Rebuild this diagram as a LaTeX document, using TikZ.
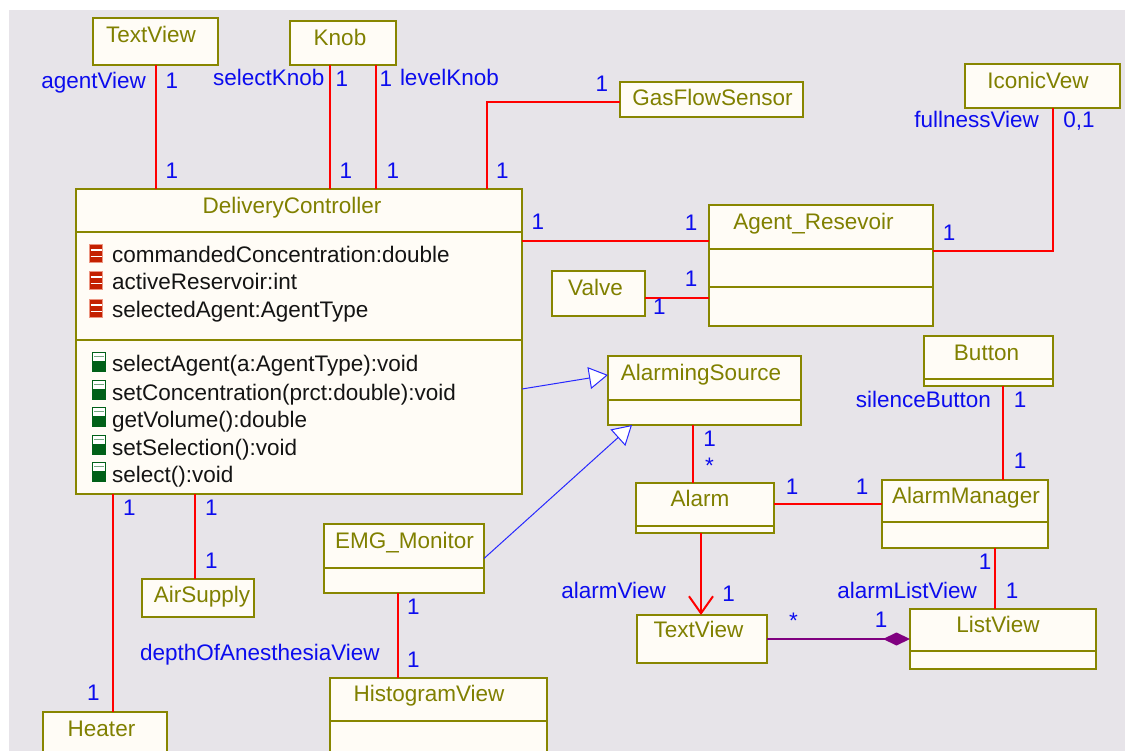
\documentclass[tikz,border=0pt]{standalone}
\usepackage{fontspec}
\setmainfont{Liberation Sans}
\usetikzlibrary{arrows.meta}

\definecolor{canvasgrey}{RGB}{231,228,233}
\definecolor{boxfill}{RGB}{255,252,246}
\definecolor{boxedge}{RGB}{136,134,0}
\definecolor{nametext}{RGB}{128,128,0}
\definecolor{multblue}{RGB}{12,12,238}
\definecolor{assocred}{RGB}{255,0,0}
\definecolor{genblue}{RGB}{40,40,255}
\definecolor{comppurple}{RGB}{128,0,128}
\definecolor{attrred}{RGB}{196,32,0}
\definecolor{attredge}{RGB}{236,150,130}
\definecolor{opgreen}{RGB}{0,96,24}

\tikzset{
  cls/.style={draw=boxedge, fill=boxfill, line width=2pt, inner sep=0pt, outer sep=0pt},
  divider/.style={draw=boxedge, line width=2pt},
  cname/.style={text=nametext, inner sep=0pt, outer sep=0pt},
  member/.style={text=black!92, inner sep=0pt, outer sep=0pt, anchor=base west},
  mult/.style={text=multblue, inner sep=0pt, outer sep=0pt},
  assoc/.style={draw=assocred, line width=2pt},
  navarrow/.style={-{Straight Barb[length=17pt,width=24pt]}},
  gen/.style={draw=genblue, line width=1pt, -{Triangle[length=19pt,width=22pt,fill=white]}},
  comp/.style={draw=comppurple, line width=2pt, -{Diamond[length=27pt,width=13pt,fill=comppurple]}},
  attr icon/.pic={
    \fill[attrred] (0,0) rectangle (14,19);
    \draw[attredge, line width=0.9pt] (0.45,0.45) rectangle (13.55,18.55);
    \draw[white, line width=1.5pt] (1.5,6) -- (12.5,6) (1.5,12.5) -- (12.5,12.5);
  },
  op icon/.pic={
    \fill[white] (0,0) rectangle (14,20);
    \fill[opgreen] (0,9) rectangle (14,20);
    \draw[opgreen, line width=1pt] (0.5,0.5) rectangle (13.5,19.5);
    \draw[opgreen!55, line width=0.9pt] (2,4.5) -- (12,4.5);
  },
}

\begin{document}
\begin{tikzpicture}[x=1pt, y=-1pt, font=\fontsize{22.5}{27}\selectfont]
\useasboundingbox (0,0) rectangle (1125,751);
\clip (0,0) rectangle (1125,751);
\fill[white] (0,0) rectangle (1125,751);
\fill[canvasgrey] (9,10) rectangle (1125,751);

% ---------- classes ----------
\node[cls, minimum width=125pt, minimum height=47pt] (tvtop) at (155.5,41.5) {};
\node[cname, anchor=base] (tvtop-n) at (151,43) {TextView};

\node[cls, minimum width=106pt, minimum height=44pt] (knob) at (343,43) {};
\node[cname, anchor=base] (knob-n) at (340,46) {Knob};

\node[cls, minimum width=183pt, minimum height=35pt] (gfs) at (711.5,99.5) {};
\node[cname, anchor=base] (gfs-n) at (712.5,106) {GasFlowSensor};

\node[cls, minimum width=155pt, minimum height=44pt] (iconic) at (1042.5,86) {};
\node[cname, anchor=base] (iconic-n) at (1038,89) {IconicVew};

\node[cls, minimum width=446pt, minimum height=305pt] (dc) at (299,341.5) {};
\draw[divider] (dc.west |- 0,232) -- (dc.east |- 0,232);
\draw[divider] (dc.west |- 0,340) -- (dc.east |- 0,340);
\node[cname, anchor=base] (dc-n) at (292,214) {DeliveryController};

\pic at (89,244) {attr icon};
\pic at (89,271) {attr icon};
\pic at (89,299) {attr icon};
\node[member] (dc-a1) at (112,263) {commandedConcentration:double};
\node[member] (dc-a2) at (112,290) {activeReservoir:int};
\node[member] (dc-a3) at (112,318) {selectedAgent:AgentType};

\pic at (92,352) {op icon};
\pic at (92,380) {op icon};
\pic at (92,407) {op icon};
\pic at (92,435) {op icon};
\pic at (92,462) {op icon};
\node[member] (dc-o1) at (112,372) {selectAgent(a:AgentType):void};
\node[member] (dc-o2) at (112,400) {setConcentration(prct:double):void};
\node[member] (dc-o3) at (112,427) {getVolume():double};
\node[member] (dc-o4) at (112,455) {setSelection():void};
\node[member] (dc-o5) at (112,482) {select():void};

\node[cls, minimum width=224pt, minimum height=121pt] (ar) at (821,265.5) {};
\draw[divider] (ar.west |- 0,249) -- (ar.east |- 0,249);
\draw[divider] (ar.west |- 0,287) -- (ar.east |- 0,287);
\node[cname, anchor=base] (ar-n) at (813.5,230) {Agent\_Resevoir};

\node[cls, minimum width=93pt, minimum height=45pt] (valve) at (598.5,293.5) {};
\node[cname, anchor=base] (valve-n) at (595.5,296) {Valve};

\node[cls, minimum width=193pt, minimum height=69pt] (as) at (704.5,390.5) {};
\draw[divider] (as.west |- 0,400) -- (as.east |- 0,400);
\node[cname, anchor=base] (as-n) at (701,381) {AlarmingSource};

\node[cls, minimum width=129pt, minimum height=50pt] (button) at (988.5,361) {};
\draw[divider] (button.west |- 0,379) -- (button.east |- 0,379);
\node[cname, anchor=base] (button-n) at (986.5,360) {Button};

\node[cls, minimum width=138pt, minimum height=50pt] (alarm) at (705,508) {};
\draw[divider] (alarm.west |- 0,526) -- (alarm.east |- 0,526);
\node[cname, anchor=base] (alarm-n) at (700,506.5) {Alarm};

\node[cls, minimum width=166pt, minimum height=68pt] (am) at (965,514) {};
\draw[divider] (am.west |- 0,522) -- (am.east |- 0,522);
\node[cname, anchor=base] (am-n) at (966,503) {AlarmManager};

\node[cls, minimum width=160pt, minimum height=69pt] (emg) at (404,558.5) {};
\draw[divider] (emg.west |- 0,568) -- (emg.east |- 0,568);
\node[cname, anchor=base] (emg-n) at (404.5,548.5) {EMG\_Monitor};

\node[cls, minimum width=112pt, minimum height=38pt] (air) at (198,598) {};
\node[cname, anchor=base] (air-n) at (202,602) {AirSupply};

\node[cls, minimum width=124pt, minimum height=58pt] (heater) at (105,741) {};
\node[cname, anchor=base] (heater-n) at (101.5,736) {Heater};

\node[cls, minimum width=217pt, minimum height=92pt] (hist) at (438.5,724) {};
\draw[divider] (hist.west |- 0,721) -- (hist.east |- 0,721);
\node[cname, anchor=base] (hist-n) at (429,701.5) {HistogramView};

\node[cls, minimum width=130pt, minimum height=48pt] (tvbot) at (702,639) {};
\node[cname, anchor=base] (tvbot-n) at (698.5,637.5) {TextView};

\node[cls, minimum width=186pt, minimum height=60pt] (lv) at (1003,639) {};
\draw[divider] (lv.west |- 0,651) -- (lv.east |- 0,651);
\node[cname, anchor=base] (lv-n) at (998,632.5) {ListView};

% ---------- connector end points ----------
\coordinate (p-k1) at ([xshift=40pt]knob.south west);
\coordinate (p-k2) at ([xshift=-20pt]knob.south east);
\coordinate (p-g1) at ([xshift=-35pt]dc.north east);
\coordinate (p-g2) at ([yshift=-2.5pt]gfs.west);
\coordinate (p-r1) at ([yshift=-36pt]ar.north west);
\coordinate (p-v1) at ([yshift=-4.5pt]valve.east);
\coordinate (p-i1) at ([xshift=10.5pt]iconic.south);
\coordinate (p-i2) at ([yshift=14.5pt]ar.east);
\coordinate (p-s1) at ([xshift=-12pt]alarm.north);
\coordinate (p-m1) at ([yshift=4pt]alarm.east);
\coordinate (p-b1) at ([xshift=14.5pt]button.south);
\coordinate (p-l1) at ([xshift=30pt]am.south);
\coordinate (p-t1) at ([xshift=-4pt]alarm.south);
\coordinate (p-a1) at ([xshift=-3pt]air.north);
\coordinate (p-h1) at ([xshift=8pt]heater.north);
\coordinate (p-e1) at ([xshift=-6pt]emg.south);
\coordinate (p-x1) at ([yshift=-47.5pt]dc.east);
\coordinate (p-x2) at ([yshift=15.5pt]as.west);
\coordinate (p-x3) at ([xshift=-72.5pt]as.south);

% ---------- associations ----------
\draw[assoc] (tvtop.south) -- (tvtop.south |- dc.north);
\draw[assoc] (p-k1) -- (p-k1 |- dc.north);
\draw[assoc] (p-k2) -- (p-k2 |- dc.north);
\draw[assoc] (p-g1) |- (p-g2);
\draw[assoc] (p-r1 -| dc.east) -- (p-r1);
\draw[assoc] (p-v1) -- (p-v1 -| ar.west);
\draw[assoc] (p-i1) |- (p-i2);
\draw[assoc] (p-s1 |- as.south) -- (p-s1);
\draw[assoc] (p-m1) -- (p-m1 -| am.west);
\draw[assoc] (p-b1) -- (p-b1 |- am.north);
\draw[assoc] (p-l1) -- (p-l1 |- lv.north);
\draw[assoc, navarrow] (p-t1) -- (p-t1 |- tvbot.north);
\draw[assoc] (p-a1 |- dc.south) -- (p-a1);
\draw[assoc] (p-h1 |- dc.south) -- (p-h1);
\draw[assoc] (p-e1) -- (p-e1 |- hist.north);

% ---------- generalizations ----------
\draw[gen] (p-x1) -- (p-x2);
\draw[gen] (emg.east) -- (p-x3);

% ---------- composition ----------
\draw[comp] (tvbot.east) -- (tvbot.east -| lv.west);

% ---------- role names and multiplicities ----------
\node[mult, anchor=base east] (r-agentview) at (146,88.5) {agentView};
\node[mult, anchor=base] (m-tv1) at (172,88.5) {1};
\node[mult, anchor=base] (m-tv2) at (172,179) {1};

\node[mult, anchor=base east] (r-selectknob) at (324.5,86) {selectKnob};
\node[mult, anchor=base] (m-k1) at (342,87) {1};
\node[mult, anchor=base] (m-k2) at (386,87) {1};
\node[mult, anchor=base west] (r-levelknob) at (400,86) {levelKnob};
\node[mult, anchor=base] (m-k3) at (346,179) {1};
\node[mult, anchor=base] (m-k4) at (393,179) {1};

\node[mult, anchor=base] (m-g1) at (502.5,179) {1};
\node[mult, anchor=base] (m-g2) at (602,91.5) {1};

\node[mult, anchor=base east] (r-fullness) at (1039,127.5) {fullnessView};
\node[mult, anchor=base] (m-i1) at (1079,127.5) {0,1};
\node[mult, anchor=base] (m-i2) at (949,240.5) {1};

\node[mult, anchor=base] (m-r1) at (538,230) {1};
\node[mult, anchor=base] (m-r2) at (691,230.5) {1};
\node[mult, anchor=base] (m-v1) at (691,287) {1};
\node[mult, anchor=base] (m-v2) at (659.5,315) {1};

\node[mult, anchor=base] (m-s1) at (709.5,446) {1};
\node[mult, anchor=base] (m-s2) at (709.5,473) {*};

\node[mult, anchor=base] (m-m1) at (792,494) {1};
\node[mult, anchor=base] (m-m2) at (862,494) {1};

\node[mult, anchor=base east] (r-silence) at (991,407) {silenceButton};
\node[mult, anchor=base] (m-b1) at (1020,407) {1};
\node[mult, anchor=base] (m-b2) at (1020,468.5) {1};

\node[mult, anchor=base east] (r-alarmview) at (666,598.5) {alarmView};
\node[mult, anchor=base] (m-t1) at (728.5,601) {1};

\node[mult, anchor=base] (m-l1) at (985,569.5) {1};
\node[mult, anchor=base east] (r-alarmlist) at (977,598.5) {alarmListView};
\node[mult, anchor=base] (m-l2) at (1012,598.5) {1};

\node[mult, anchor=base] (m-c1) at (793.5,628) {*};
\node[mult, anchor=base] (m-c2) at (881,627) {1};

\node[mult, anchor=base] (m-h1) at (129.5,515) {1};
\node[mult, anchor=base] (m-h2) at (93.5,700) {1};
\node[mult, anchor=base] (m-a1) at (211.5,515) {1};
\node[mult, anchor=base] (m-a2) at (211.5,568.5) {1};

\node[mult, anchor=base] (m-e1) at (413.5,614) {1};
\node[mult, anchor=base] (m-e2) at (413.5,667.5) {1};
\node[mult, anchor=base west] (r-depth) at (140,660) {depthOfAnesthesiaView};

\end{tikzpicture}
\end{document}
